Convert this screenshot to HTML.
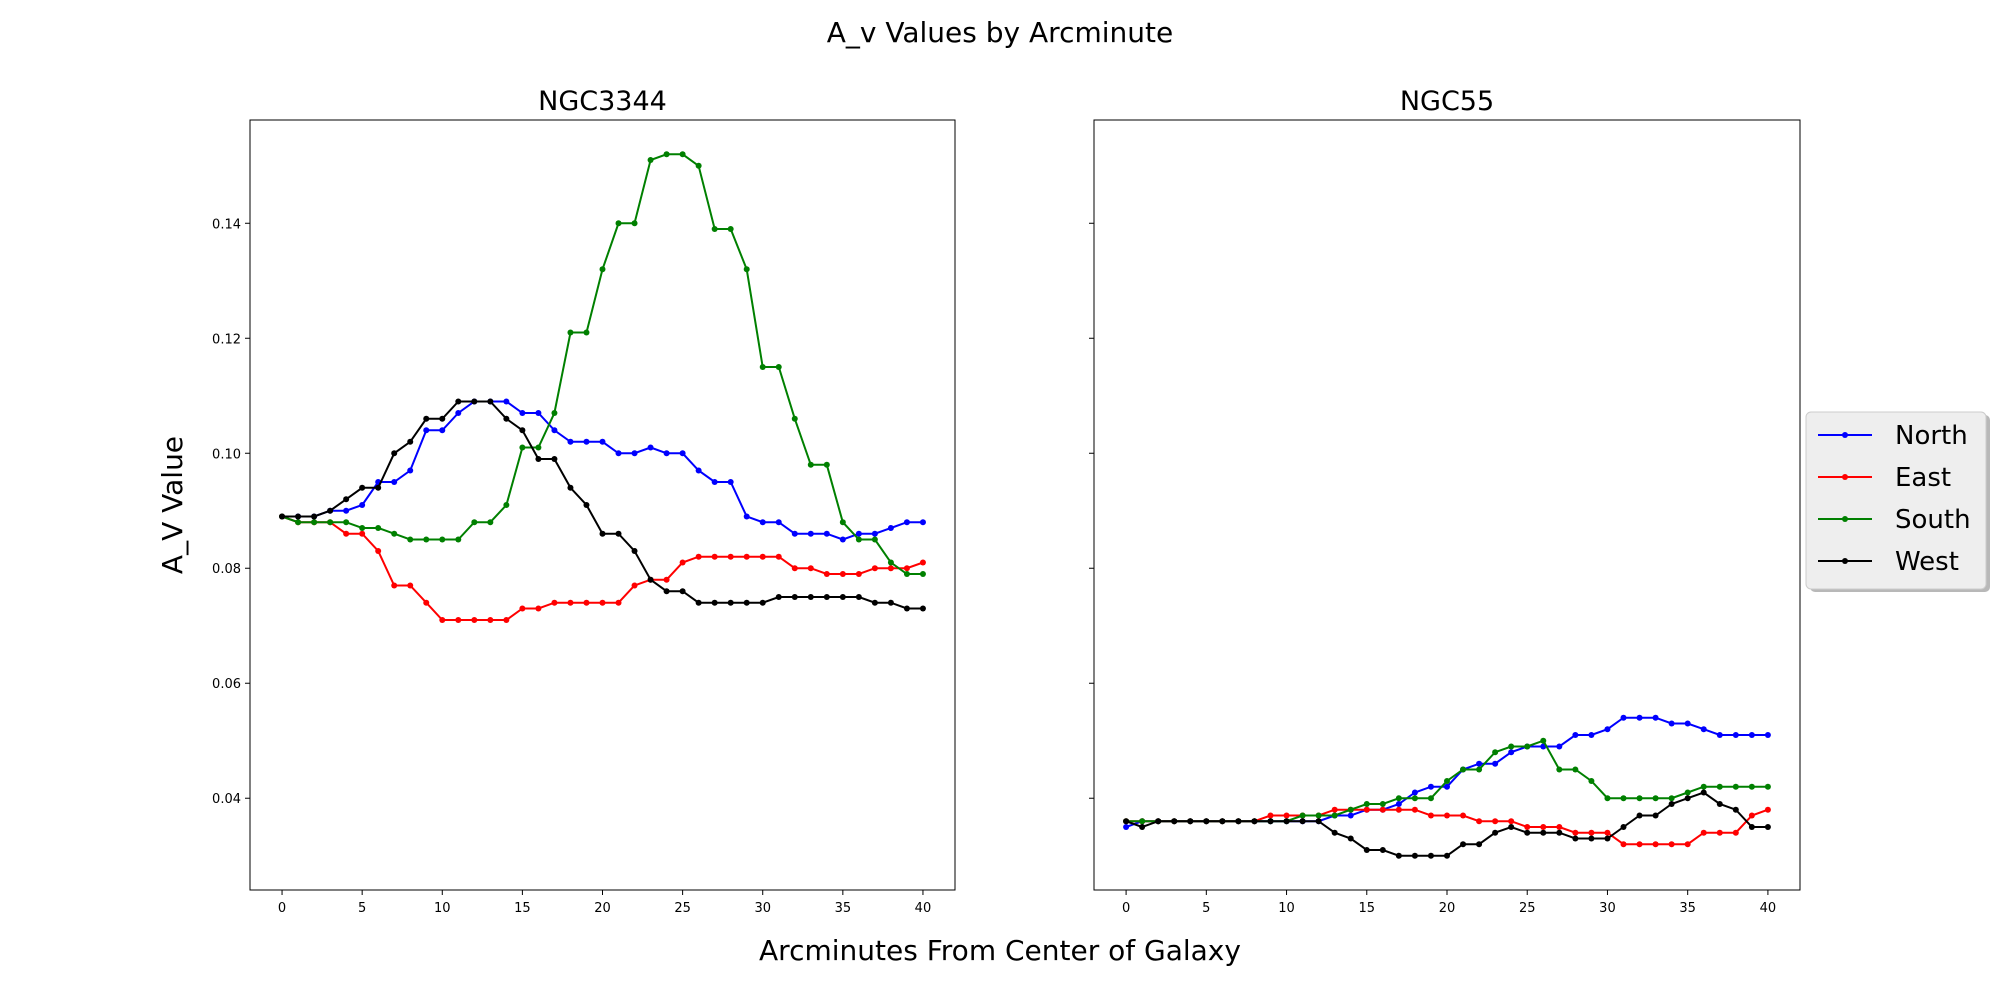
<!DOCTYPE html>
<html><head><meta charset="utf-8"><style>
body{margin:0;background:#fff;}
svg text{font-family:"DejaVu Sans","Liberation Sans",sans-serif;}
</style></head><body>
<svg id="chart" width="2000" height="1000" xmlns="http://www.w3.org/2000/svg">
<text x="1000" y="42" font-size="28" text-anchor="middle">A_v Values by Arcminute</text>
<text x="1000" y="960" font-size="28" text-anchor="middle">Arcminutes From Center of Galaxy</text>
<text x="182" y="505" font-size="28" text-anchor="middle" transform="rotate(-90 182 505)">A_V Value</text>
<g id="plots"></g>
<g>
<rect x="1810" y="415" width="180" height="177" rx="5" fill="#888" opacity="0.6"/>
<rect x="1806" y="412" width="180" height="177" rx="5" fill="#eeeeee" stroke="#ccc"/>
<g id="legend-items"></g>
</g>
</svg>
<script>
const xs = [];
for (let i = 0; i <= 40; i++) xs.push(i);
const seriesNames = ["North","East","South","West"];
const seriesColors = ["#0000ff","#ff0000","#008000","#000000"];
const ngc3344North = [.089,.089,.089,.090,.090,.091,.095,.095,.097,.104,.104,.107,.109,.109,.109,.107,.107,.104,.102,.102,.102,.100,.100,.101,.100,.100,.097,.095,.095,.089,.088,.088,.086,.086,.086,.085,.086,.086,.087,.088,.088];
const ngc3344East = [.089,.088,.088,.088,.086,.086,.083,.077,.077,.074,.071,.071,.071,.071,.071,.073,.073,.074,.074,.074,.074,.074,.077,.078,.078,.081,.082,.082,.082,.082,.082,.082,.080,.080,.079,.079,.079,.080,.080,.080,.081];
const ngc3344South = [.089,.088,.088,.088,.088,.087,.087,.086,.085,.085,.085,.085,.088,.088,.091,.101,.101,.107,.121,.121,.132,.140,.140,.151,.152,.152,.150,.139,.139,.132,.115,.115,.106,.098,.098,.088,.085,.085,.081,.079,.079];
const ngc3344West = [.089,.089,.089,.090,.092,.094,.094,.100,.102,.106,.106,.109,.109,.109,.106,.104,.099,.099,.094,.091,.086,.086,.083,.078,.076,.076,.074,.074,.074,.074,.074,.075,.075,.075,.075,.075,.075,.074,.074,.073,.073];
const ngc55North = [.035,.036,.036,.036,.036,.036,.036,.036,.036,.036,.036,.036,.036,.037,.037,.038,.038,.039,.041,.042,.042,.045,.046,.046,.048,.049,.049,.049,.051,.051,.052,.054,.054,.054,.053,.053,.052,.051,.051,.051,.051];
const ngc55East = [.036,.036,.036,.036,.036,.036,.036,.036,.036,.037,.037,.037,.037,.038,.038,.038,.038,.038,.038,.037,.037,.037,.036,.036,.036,.035,.035,.035,.034,.034,.034,.032,.032,.032,.032,.032,.034,.034,.034,.037,.038];
const ngc55South = [.036,.036,.036,.036,.036,.036,.036,.036,.036,.036,.036,.037,.037,.037,.038,.039,.039,.040,.040,.040,.043,.045,.045,.048,.049,.049,.050,.045,.045,.043,.040,.040,.040,.040,.040,.041,.042,.042,.042,.042,.042];
const ngc55West = [.036,.035,.036,.036,.036,.036,.036,.036,.036,.036,.036,.036,.036,.034,.033,.031,.031,.030,.030,.030,.030,.032,.032,.034,.035,.034,.034,.034,.033,.033,.033,.035,.037,.037,.039,.040,.041,.039,.038,.035,.035];
const xTicks = [0,5,10,15,20,25,30,35,40];
const yTicks = [0.04,0.06,0.08,0.10,0.12,0.14];
const yTickLabels = ["0.04","0.06","0.08","0.10","0.12","0.14"];
const panelTitles = ["NGC3344","NGC55"];

const NS="http://www.w3.org/2000/svg";
function mk(tag, attrs, parent){const e=document.createElementNS(NS,tag);for(const k in attrs)e.setAttribute(k,attrs[k]);parent.appendChild(e);return e;}
const panels=[{x0:250,x1:955,data:[ngc3344North,ngc3344East,ngc3344South,ngc3344West],labels:true},
              {x0:1094,x1:1800,data:[ngc55North,ngc55East,ngc55South,ngc55West],labels:false}];
const yTop=120,yBot=890,yMin=0.02404,yMax=0.15796,xMin=-2,xMax=42;
const root=document.getElementById('plots');
panels.forEach((p,pi)=>{
  const X=v=>p.x0+(v-xMin)/(xMax-xMin)*(p.x1-p.x0);
  const Y=v=>yBot-(v-yMin)/(yMax-yMin)*(yBot-yTop);
  const g=mk('g',{},root);
  
  
  const t=mk('text',{x:(p.x0+p.x1)/2,y:110,'font-size':27,'text-anchor':'middle'},g);
  t.textContent=panelTitles[pi];
  
  
  xTicks.forEach(v=>{
    mk('line',{x1:X(v),x2:X(v),y1:yBot,y2:yBot+5,stroke:'#000','stroke-width':1},g);
    const tl=mk('text',{x:X(v),y:yBot+22,'font-size':13,'text-anchor':'middle'},g);
    tl.textContent=v;
    
    
  });
  yTicks.forEach((v,i)=>{
    mk('line',{x1:p.x0-5,x2:p.x0,y1:Y(v),y2:Y(v),stroke:'#000','stroke-width':1},g);
    if(p.labels){
      const tl=mk('text',{x:p.x0-9,y:Y(v)+5,'font-size':13,'text-anchor':'end'},g);
      tl.textContent=yTickLabels[i];
      
      
    }
  });
  p.data.forEach((arr,si)=>{
    const pts=arr.map((v,i)=>X(xs[i]).toFixed(1)+','+Y(v).toFixed(1)).join(' ');
    const pl=mk('polyline',{points:pts,fill:'none',stroke:seriesColors[si],'stroke-width':2},g);
    
    
    arr.forEach((v,i)=>{
      const c=mk('circle',{cx:X(xs[i]),cy:Y(v),r:3,fill:seriesColors[si]},g);
      
      
    });
  });
  mk('rect',{x:p.x0,y:yTop,width:p.x1-p.x0,height:yBot-yTop,fill:'none',stroke:'#000','stroke-width':1},g);
});
const lg=document.getElementById('legend-items');
seriesNames.forEach((n,i)=>{
  const y=435+i*42;
  const it=mk('g',{},lg);
  
  
  mk('line',{x1:1818,x2:1872,y1:y,y2:y,stroke:seriesColors[i],'stroke-width':2},it);
  mk('circle',{cx:1845,cy:y,r:3,fill:seriesColors[i]},it);
  const t=mk('text',{x:1895,y:y+9,'font-size':26},it);
  t.textContent=n;
});
</script>
</body></html>
